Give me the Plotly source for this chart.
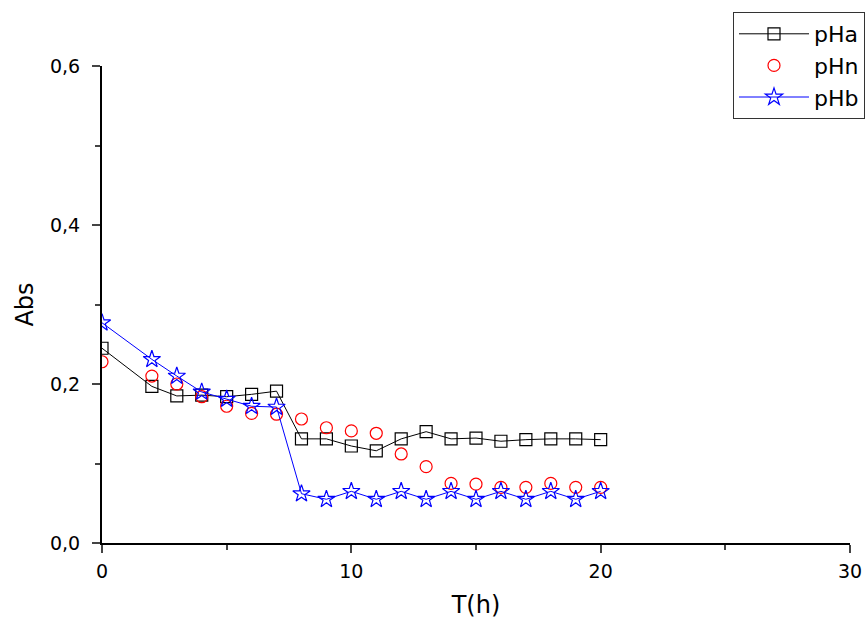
import plotly.graph_objects as go

# Time points (h) and absorbance for each pH condition
t = [0, 2, 3, 4, 5, 6, 7, 8, 9, 10, 11, 12, 13, 14, 15, 16, 17, 18, 19, 20]
pHa = [0.245, 0.197, 0.185, 0.186, 0.184, 0.187, 0.191, 0.131, 0.131, 0.122, 0.116,
       0.131, 0.140, 0.131, 0.132, 0.128, 0.130, 0.131, 0.131, 0.130]
pHn = [0.228, 0.210, 0.200, 0.184, 0.172, 0.163, 0.162, 0.156, 0.145, 0.141, 0.138,
       0.112, 0.096, 0.075, 0.074, 0.070, 0.070, 0.075, 0.070, 0.070]
pHb = [0.277, 0.231, 0.210, 0.190, 0.181, 0.172, 0.171, 0.062, 0.055, 0.065, 0.055,
       0.065, 0.055, 0.065, 0.055, 0.065, 0.055, 0.065, 0.055, 0.065]

x_ticks = [0, 10, 20, 30]
y_ticks = [0.0, 0.2, 0.4, 0.6]

FONT = "DejaVu Sans, Verdana, sans-serif"

fig = go.Figure()
fig.add_trace(go.Scatter(
    x=t, y=pHa, name="pHa", mode="lines+markers",
    line=dict(color="black", width=1),
    marker=dict(symbol="square-open", size=12, color="black", line=dict(width=1.2)),
))
fig.add_trace(go.Scatter(
    x=t, y=pHn, name="pHn", mode="markers",
    marker=dict(symbol="circle-open", size=12, color="red", line=dict(width=1.2)),
))
fig.add_trace(go.Scatter(
    x=t, y=pHb, name="pHb", mode="lines+markers",
    line=dict(color="blue", width=1),
    marker=dict(symbol="star-open", size=13, color="blue", line=dict(width=1.2)),
))

fig.update_layout(
    width=867, height=619,
    margin=dict(l=102, r=17, t=66, b=76, autoexpand=False),
    paper_bgcolor="white", plot_bgcolor="white",
    separators=",.",
    font=dict(family=FONT, color="black"),
    showlegend=True,
    legend=dict(
        xref="container", yref="container",
        x=865 / 867, y=1 - 12 / 619, xanchor="right", yanchor="top",
        bordercolor="#333333", borderwidth=1, bgcolor="white",
        font=dict(size=22, family=FONT),
        tracegroupgap=0, itemwidth=70,
    ),
    xaxis=dict(
        range=[0, 30], tickvals=x_ticks, ticks="outside", ticklen=8, tickwidth=2,
        showline=True, linecolor="black", linewidth=2, showgrid=False, zeroline=False,
        tickfont=dict(size=19), tickformat="d", ticklabelstandoff=2,
        minor=dict(ticks="outside", ticklen=5, tickwidth=2, dtick=5, tick0=0, showgrid=False),
        title=dict(text="T(h)", font=dict(size=24), standoff=22),
    ),
    yaxis=dict(
        range=[0, 0.6], tickvals=y_ticks, ticks="outside", ticklen=8, tickwidth=2,
        showline=True, linecolor="black", linewidth=2, showgrid=False, zeroline=False,
        tickfont=dict(size=19), tickformat=".1f", ticklabelstandoff=8,
        minor=dict(ticks="outside", ticklen=5, tickwidth=2, dtick=0.1, tick0=0, showgrid=False),
        title=dict(text="Abs", font=dict(size=24), standoff=10),
    ),
)

fig.write_html("out.html")
